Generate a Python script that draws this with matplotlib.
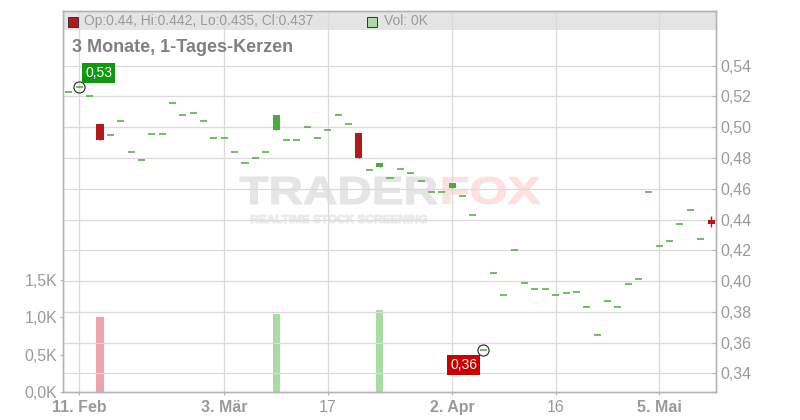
import numpy as np
import pandas as pd
import matplotlib
matplotlib.use('Agg')
import matplotlib.pyplot as plt
import matplotlib.transforms as mtransforms
from matplotlib.patches import Rectangle, PathPatch
from matplotlib.textpath import TextPath
from matplotlib.font_manager import FontProperties

plt.rcParams['font.family'] = ['Liberation Sans', 'DejaVu Sans']

# trading days (Xetra, holidays removed)
days = pd.bdate_range('2025-02-10', '2025-05-12', freq='C',
                      holidays=['2025-04-18', '2025-04-21', '2025-05-01'])

opens = [0.523, 0.526, 0.520, 0.502, 0.495, 0.504, 0.484, 0.4785, 0.4955, 0.4955,
         0.5155, 0.508, 0.5095, 0.504, 0.493, 0.493, 0.484, 0.4765, 0.480, 0.484,
         0.498, 0.4915, 0.4915, 0.500, 0.493, 0.4985, 0.508, 0.502, 0.496, 0.472,
         0.4743, 0.4668, 0.4726, 0.470, 0.4648, 0.4577, 0.4577, 0.4605, 0.4551, 0.443,
         0.355, 0.405, 0.3907, 0.420, 0.399, 0.3946, 0.3946, 0.3907, 0.392, 0.3927,
         0.383, 0.3647, 0.3868, 0.383, 0.398, 0.401, 0.4577, 0.4226, 0.4258, 0.437,
         0.446, 0.427, 0.440]
closes = list(opens)
closes[3] = 0.492
closes[20] = 0.508
closes[28] = 0.480
closes[30] = 0.4767
closes[37] = 0.4637
closes[62] = 0.437
last_hi, last_lo = 0.442, 0.435

volumes = np.zeros(len(days))      # in K
volumes[3] = 1.00
volumes[20] = 1.04
volumes[30] = 1.10

price_ticks = [0.34, 0.36, 0.38, 0.40, 0.42, 0.44, 0.46, 0.48, 0.50, 0.52, 0.54]
vol_ticks = [0.0, 0.5, 1.0, 1.5]
vol_labels = ['0,0K', '0,5K', '1,0K', '1,5K']
date_ticks = ['2025-02-11', '2025-03-03', '2025-03-17', '2025-04-02', '2025-04-16', '2025-05-05']
date_labels = ['11. Feb', '3. Mär', '17', '2. Apr', '16', '5. Mai']
date_bold = [True, True, False, True, False, True]

W, H = 800, 420
GREEN, RED = '#4aab3a', '#b3181b'
GRID, FRAME, TXT = '#dadada', '#b4b4b4', '#9a9a9a'

fig = plt.figure(figsize=(W / 100, H / 100), dpi=100)
ax = fig.add_axes([63 / W, 28 / H, 653 / W, 381 / H])
ax2 = ax.twinx()

x = np.arange(len(days))
opens = np.array(opens)
closes = np.array(closes)
highs = np.maximum(opens, closes)
lows = np.minimum(opens, closes)
highs[-1], lows[-1] = last_hi, last_lo

# header band + vertical grid (volume axis, lowest layer)
ax.add_patch(Rectangle((0, 362 / 381), 1, 19 / 381, transform=ax.transAxes,
                       fc='#e4e4e4', ec='none', zorder=0.3))
tick_pos = [days.get_loc(pd.Timestamp(d)) for d in date_ticks]
ax.set_axisbelow(True)
ax.grid(axis='x', color=GRID, lw=0.9)

# watermark
def stamp(s, x0, y0, x1, y1, color, weight='bold'):
    tp = TextPath((0, 0), s, size=10, prop=FontProperties(family='Liberation Sans', weight=weight))
    bb = tp.get_extents()
    tr = mtransforms.Affine2D().translate(-bb.x0, -bb.y0) \
        .scale((x1 - x0) / bb.width / W, (y1 - y0) / bb.height / H) \
        .translate(x0 / W, 1 - y1 / H)
    ax.add_artist(PathPatch(tr.transform_path(tp), fc=color, ec=color, lw=0.8,
                            transform=fig.transFigure, zorder=0.4))

stamp('TRADER', 240, 177, 437, 204, '#e5e5e5')
stamp('FOX', 443, 177, 540, 204, '#fde0e0')
stamp('REALTIME STOCK SCREENING', 251, 215, 427, 223, '#eaeaea')

# volume bars
vcol = ['#eda3ab' if c < o else '#a9dba3' for o, c in zip(opens, closes)]
ax.bar(x, volumes, width=0.68, color=vcol, zorder=2)
ax.set_ylim(0, 5.11)
ax.set_yticks(vol_ticks)
ax.set_yticklabels(vol_labels)

# candles
body = opens != closes
up = closes >= opens
ax2.vlines(x, lows, highs, color=np.where(up, GREEN, RED), lw=1.0, zorder=3)
ax2.bar(x[body], np.abs(closes - opens)[body], bottom=np.minimum(opens, closes)[body],
        width=0.68, color=np.where(up, GREEN, RED)[body], zorder=4)
ax2.hlines(closes[~body], x[~body] - 0.34, x[~body] + 0.34, color=GREEN, lw=1.1, zorder=4)

ax2.set_ylim(0.32784, 0.57557)
ax2.set_yticks(price_ticks)
ax2.set_yticklabels([f'{t:.2f}'.replace('.', ',') for t in price_ticks])
ax2.grid(axis='y', color=GRID, lw=0.9)
ax2.set_axisbelow(True)
ax.set_xlim(-0.574, 62.48)

# max / min markers
imax, imin = 1, 40
for i, lab, col, off, ha, va in [(imax, '0,53', '#109910', (6, 7), 'left', 'bottom'),
                                 (imin, '0,36', '#cc0000', (-6, -8), 'right', 'top')]:
    ax2.plot(x[i], closes[i], 'o', ms=8, mfc='none', mec='#222222', mew=0.8, zorder=5)
    ax2.annotate(lab, (x[i], closes[i]), xytext=off, textcoords='offset pixels',
                 ha=ha, va=va, color='white', fontsize=10, zorder=6,
                 bbox=dict(boxstyle='square,pad=0.22', fc=col, ec='none'))

# axes styling
ax.set_xticks(tick_pos)
ax.set_xticklabels(date_labels)
for lbl, b in zip(ax.get_xticklabels(), date_bold):
    lbl.set_fontweight('bold' if b else 'normal')
ax.tick_params(axis='x', length=2.5, color=FRAME, labelcolor=TXT, labelsize=11.5, pad=3)
ax.tick_params(axis='y', length=2.5, color=FRAME, labelcolor=TXT, labelsize=11.5, pad=1.5)
ax2.tick_params(axis='y', direction='in', length=3, color=FRAME, labelcolor=TXT,
                labelsize=11.5, pad=3)
for a in (ax, ax2):
    for s in a.spines.values():
        s.set_color(FRAME)
        s.set_linewidth(1.0)

# header texts
fig.add_artist(Rectangle((68 / W, 1 - 27 / H), 10 / W, 10 / H, transform=fig.transFigure,
                         fc=RED, ec='#333333', lw=0.7))
fig.text(84 / W, 1 - 21 / H, 'Op:0.44, Hi:0.442, Lo:0.435, Cl:0.437', color=TXT,
         fontsize=10, va='center')
fig.add_artist(Rectangle((367 / W, 1 - 27 / H), 10 / W, 10 / H, transform=fig.transFigure,
                         fc='#a9dba3', ec='#333333', lw=0.7))
fig.text(384 / W, 1 - 21 / H, 'Vol: 0K', color=TXT, fontsize=10, va='center')
fig.text(72 / W, 1 - 47 / H, '3 Monate, 1-Tages-Kerzen', color='#808080',
         fontsize=13, fontweight='bold', va='center')

fig.savefig('out.png', dpi=100)
